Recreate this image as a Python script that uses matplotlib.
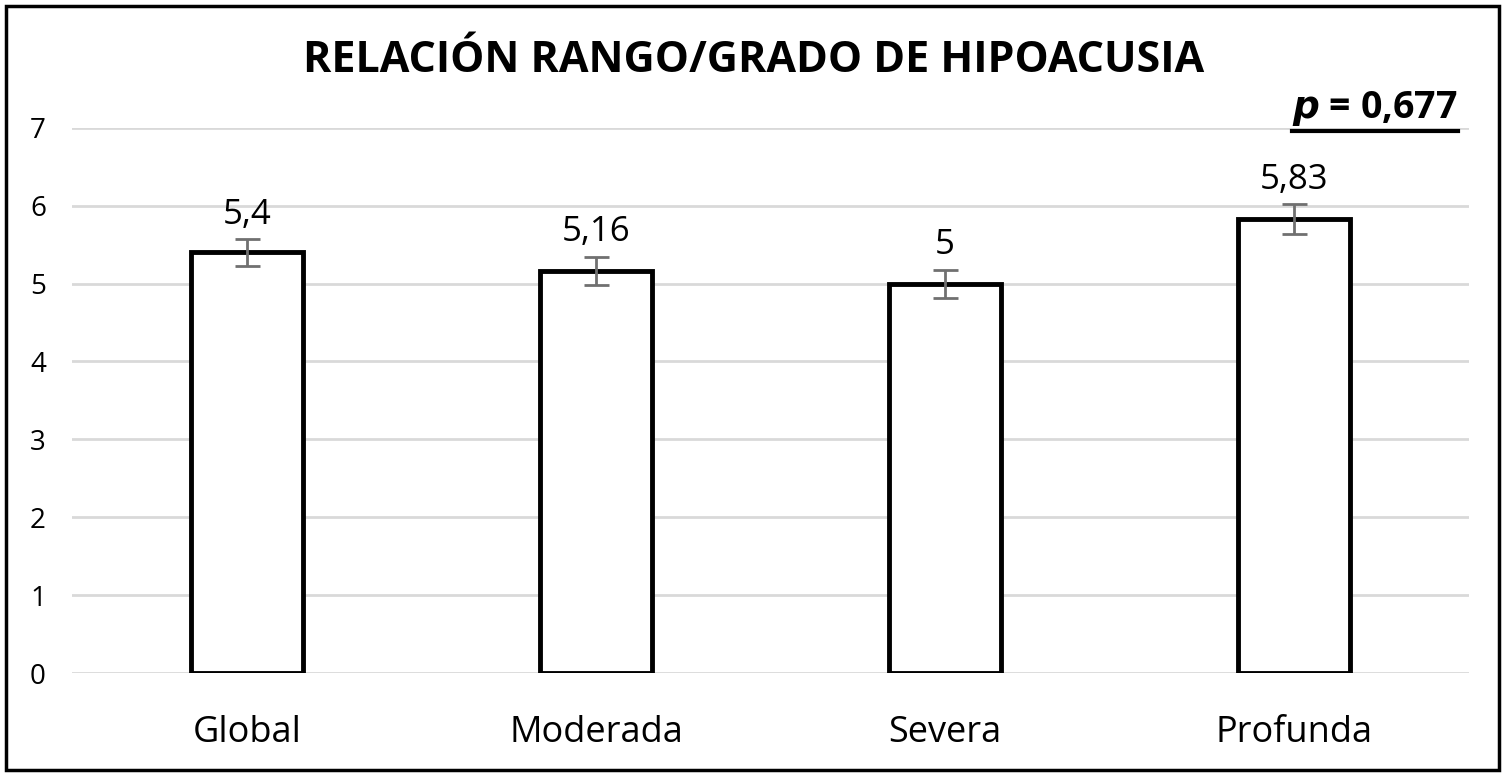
import matplotlib
matplotlib.use("Agg")
import matplotlib.pyplot as plt
from matplotlib.lines import Line2D
from matplotlib.patches import Rectangle
import numpy as np

plt.rcParams['font.family'] = ['Open Sans', 'DejaVu Sans']

categories = ['Global', 'Moderada', 'Severa', 'Profunda']
values = [5.4, 5.16, 5.0, 5.83]
errors = [0.17, 0.18, 0.18, 0.19]
labels = ['5,4', '5,16', '5', '5,83']
p_text = '= 0,677'

fig = plt.figure(figsize=(15.08, 7.79), dpi=100)
ax = fig.add_axes([0.048, 0.136, 0.926, 0.70])

x = np.arange(len(categories))
ax.bar(x, values, width=0.32, color='white', edgecolor='black', linewidth=3.5, zorder=3)
ax.errorbar(x, values, yerr=errors, fmt='none', ecolor='#707070', elinewidth=2,
            capsize=9, capthick=2, zorder=4)
for xi, v, e, lab in zip(x, values, errors, labels):
    ax.text(xi, v + e + 0.2, lab, ha='center', va='baseline', fontsize=25, zorder=5)

ax.set_xlim(-0.5, 3.5)
ax.set_ylim(0, 7)
ax.set_yticks(range(8))
ax.set_xticks(x)
ax.set_xticklabels(categories, fontsize=26)
ax.tick_params(axis='y', labelsize=20, length=0, pad=19)
ax.tick_params(axis='x', length=0, pad=30)
ax.grid(axis='y', color='#d9d9d9', linewidth=2, zorder=0)
for s in ax.spines.values():
    s.set_visible(False)

fig.text(0.5, 0.922, 'RELACIÓN RANGO/GRADO DE HIPOACUSIA', ha='center', va='center',
         fontsize=31, fontweight='bold')

# p value, underlined
t = fig.text(0.967, 0.848, r'$\mathbfit{p}$ ' + p_text, ha='right', va='baseline',
             fontsize=27, fontweight='bold')
fig.canvas.draw()
bb = t.get_window_extent().transformed(fig.transFigure.inverted())
fig.lines.append(Line2D([bb.x0, bb.x1], [bb.y0 - 0.003, bb.y0 - 0.003],
                        transform=fig.transFigure, color='black', linewidth=3))

# outer frame
fig.patches.append(Rectangle((0.004, 0.012), 0.99, 0.98, transform=fig.transFigure,
                             fill=False, edgecolor='black', linewidth=2.5))

fig.savefig('out.png', dpi=100)
